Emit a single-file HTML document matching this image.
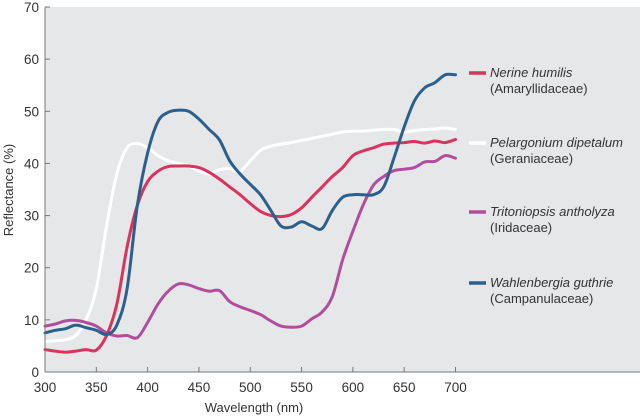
<!DOCTYPE html>
<html><head><meta charset="utf-8"><style>
body{margin:0;background:#fff;}
svg text{font-family:"Liberation Sans",sans-serif;fill:#333;}
</style></head><body>
<svg id="chart" width="640" height="415" xmlns="http://www.w3.org/2000/svg">
<rect x="45" y="7" width="595" height="365" fill="#e6e7e9"/>
<g id="ticks"></g>
<g id="series"></g>
<line x1="45" y1="7" x2="45" y2="372" stroke="#777" stroke-width="1"/>
<line x1="45" y1="372" x2="640" y2="372" stroke="#777" stroke-width="1"/>
<text x="254" y="412" font-size="13" text-anchor="middle">Wavelength (nm)</text>
<text transform="translate(13,190) rotate(-90)" font-size="13" text-anchor="middle">Reflectance (%)</text>
<g id="legend"></g>
</svg>
<script>
const wavelengths=[300,310,320,330,340,350,360,370,380,390,400,410,420,430,440,450,460,470,480,490,500,510,520,530,540,550,560,570,580,590,600,610,620,630,640,650,660,670,680,690,700];
const nerine=[4.3,4,3.8,4,4.3,4.2,7,13,24,32,36.5,38.5,39.4,39.5,39.5,39.2,38.3,37,35.5,34,32.3,30.8,30,29.8,30.2,31.5,33.5,35.5,37.5,39.2,41.5,42.4,43,43.7,43.9,44,44.2,43.9,44.3,44,44.6];
const pelargonium=[5.8,6,6.2,7,10,16,28,38,43,43.8,43,41.5,40.5,40,39.5,38.5,38,38.8,39,38.5,40.5,42.5,43.3,43.7,44,44.4,44.8,45.2,45.6,46,46.2,46.2,46.4,46.5,46.5,46,46.3,46.5,46.6,46.8,46.5];
const tritoniopsis=[8.8,9.2,9.8,9.9,9.5,8.8,7.5,6.9,7,6.6,9.5,13,15.5,16.9,16.7,16,15.5,15.6,13.5,12.5,11.8,11,9.8,8.8,8.6,8.8,10.2,11.5,14.5,21.5,27,32,35.8,37.5,38.6,38.9,39.2,40.3,40.4,41.5,41];
const wahlenbergia=[7.5,8,8.3,9,8.5,8,7.2,9,16,32,42,48,49.8,50.2,50,48.5,46.5,44.5,40.5,38,36,34,31,28,27.8,28.8,28,27.5,31,33.5,34,34,34,35.5,41,47,52,54.5,55.5,57,57];
const xTicks=[300,350,400,450,500,550,600,650,700];
const yTicks=[0,10,20,30,40,50,60,70];
const names=["Nerine humilis","Pelargonium dipetalum","Tritoniopsis antholyza","Wahlenbergia guthrie"];
const families=["(Amaryllidaceae)","(Geraniaceae)","(Iridaceae)","(Campanulaceae)"];
const NS="http://www.w3.org/2000/svg";
const xs=v=>45+(v-300)*410.5/400;
const ys=v=>372-v*365/70;
function mk(t,a,p){const e=document.createElementNS(NS,t);for(const k in a)e.setAttribute(k,a[k]);p.appendChild(e);return e;}
const tk=document.getElementById('ticks');
xTicks.forEach(v=>{
 const l=mk('line',{x1:xs(v),x2:xs(v),y1:372,y2:367,stroke:'#777'},tk);
 
 
 const t=mk('text',{x:xs(v),y:392,'font-size':13.5,'text-anchor':'middle'},tk);t.textContent=v;
 
 
});
yTicks.forEach(v=>{
 const l=mk('line',{x1:45,x2:50,y1:ys(v),y2:ys(v),stroke:'#777'},tk);
 
 
 const t=mk('text',{x:39,y:ys(v)+5,'font-size':13.5,'text-anchor':'end'},tk);t.textContent=v;
 
 
});
function smooth(pts){
 let d='M'+pts[0][0].toFixed(1)+','+pts[0][1].toFixed(1);
 for(let i=0;i<pts.length-1;i++){
  const p0=pts[i-1]||pts[i],p1=pts[i],p2=pts[i+1],p3=pts[i+2]||p2;
  const c1=[p1[0]+(p2[0]-p0[0])/6,p1[1]+(p2[1]-p0[1])/6];
  const c2=[p2[0]-(p3[0]-p1[0])/6,p2[1]-(p3[1]-p1[1])/6];
  d+=' C'+c1.map(n=>n.toFixed(1)).join(',')+' '+c2.map(n=>n.toFixed(1)).join(',')+' '+p2.map(n=>n.toFixed(1)).join(',');
 }
 return d;
}
const sg=document.getElementById('series');
const series=[[pelargonium,'#ffffff','pelargonium-line'],[tritoniopsis,'#b24d9e','tritoniopsis-line'],[nerine,'#d9335e','nerine-line'],[wahlenbergia,'#2b5f8c','wahlenbergia-line']];
series.forEach(s=>{
 const pts=s[0].map((v,i)=>[xs(wavelengths[i]),ys(v)]);
 const p=mk('path',{d:smooth(pts),fill:'none',stroke:s[1],'stroke-width':3,'stroke-linejoin':'round','stroke-linecap':'round'},sg);
 
 
});
const lg=document.getElementById('legend');
const lc=['#d9335e','#ffffff','#b24d9e','#2b5f8c'];
const ly=[73,143,212,283];
names.forEach((n,i)=>{
 const l=mk('line',{x1:469,x2:486,y1:ly[i],y2:ly[i],stroke:lc[i],'stroke-width':3.5},lg);
 
 
 const t=mk('text',{x:490,y:ly[i]+4,'font-size':13,'font-style':'italic'},lg);t.textContent=n;
 
 
 const f=mk('text',{x:490,y:ly[i]+20,'font-size':13},lg);f.textContent=families[i];
 
 
});
</script>
</body></html>
